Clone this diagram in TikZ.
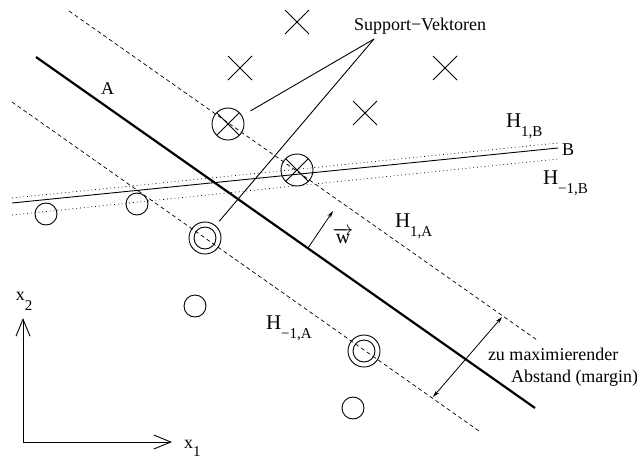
\documentclass[tikz,border=0pt]{standalone}
\usepackage{fontspec}
\setmainfont{Liberation Serif}
\usetikzlibrary{shapes.misc,arrows.meta}
\tikzset{
  kreuz/.style={
    draw, line width=0.9pt,
    shape=cross out,
    outer sep=0, inner sep=0,
    minimum size=24pt
  },
  kreis/.style={
    draw, line width=0.9pt,
    shape=circle,
    outer sep=0, inner sep=0,
    minimum size=22pt
  },
  svkreis/.style={kreis, minimum size=32pt},
  hyper/.style={line width=0.7pt, dash pattern=on 4pt off 3pt},
  rand/.style={line width=0.7pt, dash pattern=on 0.8pt off 3pt},
  txt/.style={anchor=base west, inner sep=0, outer sep=0, font=\fontsize{18}{20}\selectfont},
  achse/.style={line width=0.9pt, -{Straight Barb[length=17pt,width=14pt]}}
}
\newcommand{\Hsub}[1]{\fontsize{21}{22}\selectfont H\raisebox{-9pt}{\fontsize{15}{15}\selectfont #1}}

\begin{document}
\begin{tikzpicture}[x=1pt,y=-1pt]
\useasboundingbox (0,0) rectangle (637,461);

%%%%%%%%% trennlinie A und B
  \coordinate (a1) at (36,57);
  \coordinate (a2) at (535,408);
  \coordinate (b1) at (12,203);
  \coordinate (b2) at (558,148);
  \draw[line width=2.2pt] (a1) -- (a2);
  \draw[line width=0.9pt] (b1) -- (b2);
  \node[txt] (lA) at (101,94) {A};
  \node[txt] (lB) at (562,155) {B};

%%%%%%%%% hyperebenen
  \coordinate (h1a) at (69,11);
  \coordinate (h1b) at (537,340);
  \coordinate (hm1a) at (12,102);
  \coordinate (hm1b) at (479,431);
  \draw[hyper] (h1a) -- (h1b);
  \draw[hyper] (hm1a) -- (hm1b);
  \draw[rand] (12,198) -- (558,143);
  \draw[rand] (12,215) -- (558,159);

%%%%%%%%% klasse +1
  \foreach \p [count=\i] in {(297,22),(240,68),(445,68),(365,113)}
    \node[kreuz] (k\i) at \p {};
  \node[svkreis] (s1) at (228,124) {};
  \node[kreuz, minimum size=22.6pt] (s1k) at (s1) {};
  \node[svkreis] (s2) at (297,170) {};
  \node[kreuz, minimum size=22.6pt] (s2k) at (s2) {};

%%%%%%%%% klasse -1
  \foreach \p [count=\i] in {(46,214),(137,204),(195,306),(353,408)}
    \node[kreis] (o\i) at \p {};
  \node[svkreis] (d1) at (205,238) {};
  \node[kreis] (d1i) at (d1) {};
  \node[svkreis] (d2) at (364,351) {};
  \node[kreis] (d2i) at (d2) {};

%%%%%%%%% support-vektoren
  \node[txt] (sv) at (354,30) {Support−Vektoren};
  \coordinate (svspitze) at (374,39);
  \draw[line width=0.9pt, shorten >=10pt] (svspitze) -- (s1);
  \draw[line width=0.9pt, shorten >=6pt] (svspitze) -- (d1);

%%%%%%%%% normalenvektor
  \coordinate (w1) at (308,248);
  \coordinate (w2) at (333,211);
  \draw[line width=0.8pt, -{Stealth[length=7pt,width=4pt]}] (w1) -- (w2);
  \node[anchor=center, inner sep=0] (lw) at (343,236) {\fontsize{20}{20}\selectfont$\overrightarrow{\hbox{w}}$};

%%%%%%%%% beschriftung H
  \node[txt] (lh1b) at (506,127) {\Hsub{1,B}};
  \node[txt] (lhm1b) at (543,184) {\Hsub{−1,B}};
  \node[txt] (lh1a) at (395,227) {\Hsub{1,A}};
  \node[txt] (lhm1a) at (266,329) {\Hsub{−1,A}};

%%%%%%%%% margin
  \coordinate (m1) at (502,317);
  \coordinate (m2) at (433,397);
  \draw[line width=0.8pt, {Stealth[length=7pt,width=4pt]}-{Stealth[length=7pt,width=4pt]}] (m2) -- (m1);
  \node[txt] (zu) at (488,360) {zu maximierender};
  \node[txt] (abst) at (511,382) {Abstand (margin)};

%%%%%%%%% achsen
  \coordinate (ursprung) at (23,442);
  \coordinate (xend) at (172,442);
  \coordinate (yend) at (23,318);
  \draw[achse] (ursprung) -- (xend);
  \draw[achse] (ursprung) -- (yend);
  \node[txt] (lx1) at (184,448) {x\raisebox{-8pt}{\fontsize{15}{15}\selectfont 1}};
  \node[txt] (lx2) at (16,300) {x\raisebox{-10pt}{\fontsize{15}{15}\selectfont 2}};

  \end{tikzpicture}
\end{document}
